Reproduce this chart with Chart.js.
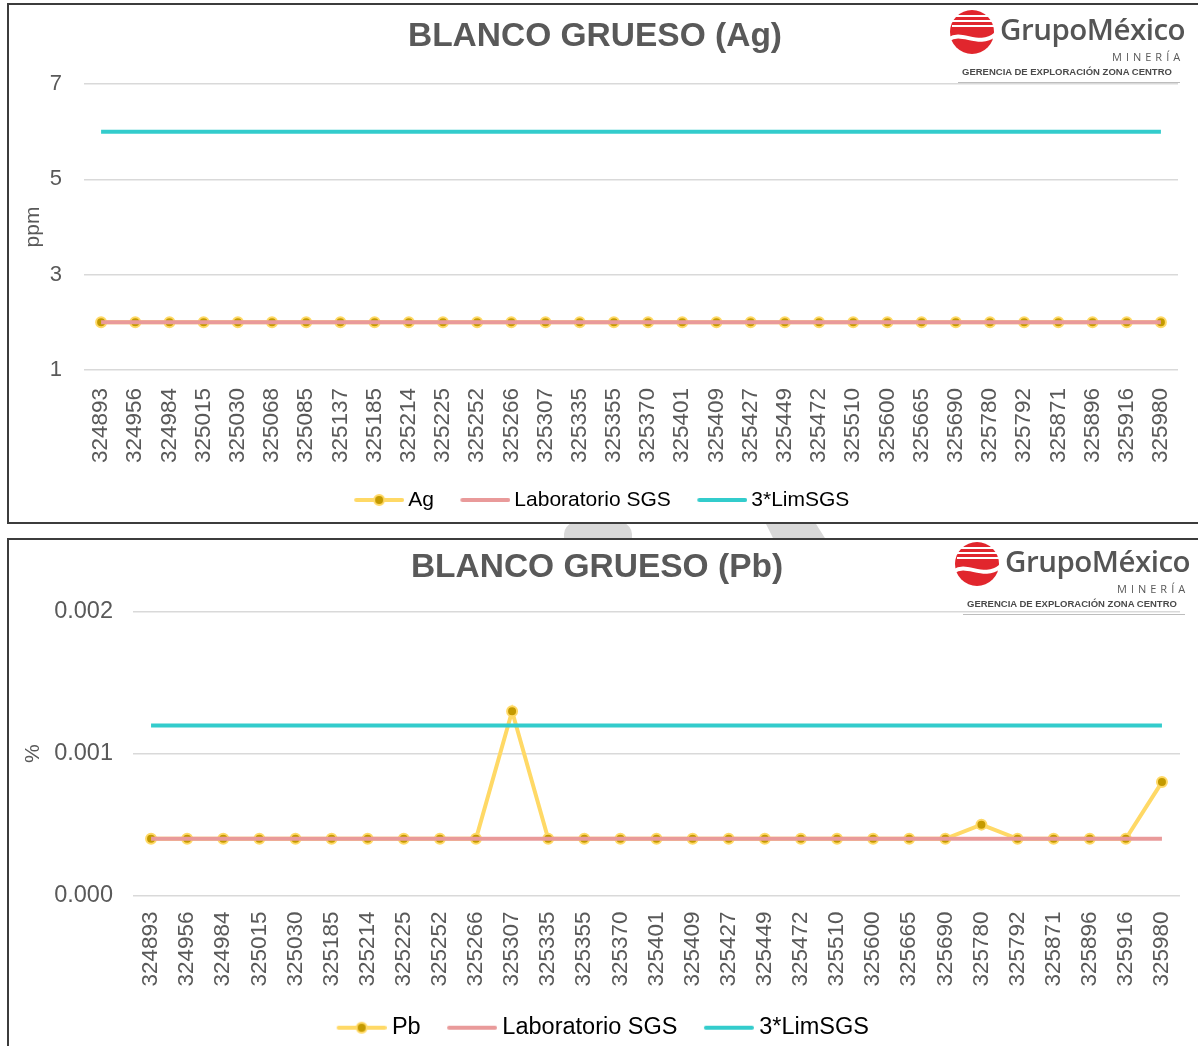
<!DOCTYPE html>
<html>
<head>
<meta charset="utf-8">
<script src="https://cdn.jsdelivr.net/npm/chart.js@4.4.0/dist/chart.umd.min.js"></script>
<style>
    body { margin: 0; background: #fff; width: 1198px; height: 1046px; overflow: hidden; position: relative; font-family: 'Liberation Sans', Arial, sans-serif; }
    .box { position: absolute; left: 7px; width: 1200px; border: 2px solid #3c3c3c; background: #fff; overflow: hidden; z-index: 1; }
    #box1 { top: 3px; height: 517px; }
    #box2 { top: 538px; height: 520px; }
    .box canvas { position: absolute; left: 0; top: 0; }
    .title { position: absolute; z-index: 2; font-weight: bold; font-size: 33.5px; color: #595959; white-space: nowrap; transform: translate(-50%, -50%); }
    .logo { position: absolute; z-index: 2; width: 240px; height: 80px; }
    .logo canvas { position: absolute; left: 0; top: 0; }
    .gm { position: absolute; left: 52px; top: 4px; font-family: 'Open Sans', sans-serif; font-weight: 600; font-size: 29.5px; line-height: 32px; color: #555; letter-spacing: -0.5px; white-space: nowrap; }
    .mineria { position: absolute; left: 164px; top: 42px; font-family: 'Open Sans', sans-serif; font-size: 11px; line-height: 11px; letter-spacing: 4px; color: #595959; }
    .gerencia { position: absolute; left: 14px; top: 58px; font-family: 'Liberation Sans Narrow', 'Liberation Sans', sans-serif; font-weight: bold; font-size: 9.5px; line-height: 10px; color: #4a4a4a; white-space: nowrap; }
    .rule { position: absolute; left: 10px; top: 73px; width: 222px; height: 1px; background: #bdbdbd; }
    .wm1 { position: absolute; left: 564px; top: 516px; width: 68px; height: 30px; background: #d8d8d8; border-radius: 50% 50% 0 0 / 60% 60% 0 0; }
    .wm2 { position: absolute; left: 762px; top: 516px; width: 68px; height: 30px; background: #d8d8d8; clip-path: polygon(0 0, 72% 0, 100% 100%, 22% 100%); }
</style>
</head>
<body>
<div class="wm1"></div>
<div class="wm2"></div>

<div class="box" id="box1"><canvas id="chartAg" width="1196" height="517"></canvas></div>
<div class="box" id="box2"><canvas id="chartPb" width="1196" height="510"></canvas></div>

<div class="title" style="left:595px;top:35px">BLANCO GRUESO (Ag)</div>
<div class="title" style="left:597px;top:566px">BLANCO GRUESO (Pb)</div>

<div class="logo" style="left:948px;top:9px">
    <canvas class="gmIcon" width="48" height="46"></canvas>
    <div class="gm">GrupoMéxico</div>
    <div class="mineria">MINERÍA</div>
    <div class="gerencia">GERENCIA DE EXPLORACIÓN ZONA CENTRO</div>
    <div class="rule"></div>
</div>
<div class="logo" style="left:953px;top:541px">
    <canvas class="gmIcon" width="48" height="46"></canvas>
    <div class="gm">GrupoMéxico</div>
    <div class="mineria">MINERÍA</div>
    <div class="gerencia">GERENCIA DE EXPLORACIÓN ZONA CENTRO</div>
    <div class="rule"></div>
</div>

<script>
// Ag (ppm)
var agLabels = ['324893','324956','324984','325015','325030','325068','325085','325137','325185','325214',
    '325225','325252','325266','325307','325335','325355','325370','325401','325409','325427',
    '325449','325472','325510','325600','325665','325690','325780','325792','325871','325896',
    '325916','325980'];
var agValues = [2,2,2,2,2,2,2,2,2,2, 2,2,2,2,2,2,2,2,2,2, 2,2,2,2,2,2,2,2,2,2, 2,2];
var agLabSGS = [2,2,2,2,2,2,2,2,2,2, 2,2,2,2,2,2,2,2,2,2, 2,2,2,2,2,2,2,2,2,2, 2,2];
var agLimSGS = [6,6,6,6,6,6,6,6,6,6, 6,6,6,6,6,6,6,6,6,6, 6,6,6,6,6,6,6,6,6,6, 6,6];
var agTicks = [1, 3, 5, 7];

// Pb (%)
var pbLabels = ['324893','324956','324984','325015','325030','325185','325214','325225','325252','325266',
    '325307','325335','325355','325370','325401','325409','325427','325449','325472','325510',
    '325600','325665','325690','325780','325792','325871','325896','325916','325980'];
var pbValues = [0.0004,0.0004,0.0004,0.0004,0.0004,0.0004,0.0004,0.0004,0.0004,0.0004,
    0.0013,0.0004,0.0004,0.0004,0.0004,0.0004,0.0004,0.0004,0.0004,0.0004,
    0.0004,0.0004,0.0004,0.0005,0.0004,0.0004,0.0004,0.0004,0.0008];
var pbLabSGS = [0.0004,0.0004,0.0004,0.0004,0.0004,0.0004,0.0004,0.0004,0.0004,0.0004,
    0.0004,0.0004,0.0004,0.0004,0.0004,0.0004,0.0004,0.0004,0.0004,0.0004,
    0.0004,0.0004,0.0004,0.0004,0.0004,0.0004,0.0004,0.0004,0.0004];
var pbLimSGS = [0.0012,0.0012,0.0012,0.0012,0.0012,0.0012,0.0012,0.0012,0.0012,0.0012,
    0.0012,0.0012,0.0012,0.0012,0.0012,0.0012,0.0012,0.0012,0.0012,0.0012,
    0.0012,0.0012,0.0012,0.0012,0.0012,0.0012,0.0012,0.0012,0.0012];
var pbTicks = [0, 0.001, 0.002];

var TEXT = '#595959';
var YELLOW = '#FFD966';
var GOLD = '#C49A00';
var PINK = '#E99A9A';
var CYAN = '#33CCCC';

Chart.defaults.font.family = "'Liberation Sans', Arial, sans-serif";

// small line sample for the legend (left part transparent so the gap before it looks right)
function legendLine(color, dot) {
    var c = document.createElement('canvas');
    c.width = 73;
    c.height = 14;
    var g = c.getContext('2d');
    g.strokeStyle = color;
    g.lineWidth = 4;
    g.lineCap = 'round';
    g.beginPath();
    g.moveTo(25, 7);
    g.lineTo(71, 7);
    g.stroke();
    if (dot) {
        g.fillStyle = GOLD;
        g.strokeStyle = color;
        g.lineWidth = 2;
        g.beginPath();
        g.arc(48, 7, 5, 0, Math.PI * 2);
        g.fill();
        g.stroke();
    }
    return c;
}

function loadChart(id, o) {
    var ctx = document.getElementById(id).getContext('2d');
    var names = [o.name, 'Laboratorio SGS', '3*LimSGS'];
    var styles = [legendLine(YELLOW, true), legendLine(PINK, false), legendLine(CYAN, false)];

    return new Chart(ctx, {
        type: 'line',
        data: {
            labels: o.labels,
            datasets: [{
                label: o.name,
                data: o.values,
                borderColor: YELLOW,
                borderWidth: 4,
                pointRadius: 5,
                pointBackgroundColor: GOLD,
                pointBorderColor: YELLOW,
                pointBorderWidth: 2,
                tension: 0,
                order: 3
            }, {
                label: 'Laboratorio SGS',
                data: o.lab,
                borderColor: PINK,
                borderWidth: 4,
                pointRadius: 0,
                order: 2
            }, {
                label: '3*LimSGS',
                data: o.lim,
                borderColor: CYAN,
                borderWidth: 4,
                pointRadius: 0,
                order: 1
            }]
        },
        options: {
            responsive: false,
            animation: false,
            devicePixelRatio: 1,
            layout: {padding: {top: o.top, right: o.right, left: 0, bottom: o.bottom}},
            plugins: {
                tooltip: {enabled: false},
                title: {display: false},
                legend: {
                    position: 'bottom',
                    labels: {
                        usePointStyle: true,
                        pointStyleWidth: 60,
                        padding: 10,
                        color: TEXT,
                        font: {size: o.legendSize},
                        generateLabels: function () {
                            return names.map(function (n, i) {
                                return {text: n, pointStyle: styles[i], fillStyle: 'transparent',
                                    strokeStyle: 'transparent', lineWidth: 0, hidden: false, datasetIndex: i};
                            });
                        }
                    }
                }
            },
            scales: {
                x: {
                    offset: true,
                    grid: {display: false},
                    border: {display: false},
                    ticks: {color: TEXT, font: {size: 22.5}, autoSkip: false, minRotation: 90, maxRotation: 90, padding: o.xPad},
                    afterFit: function (axis) { axis.height = o.xHeight; }
                },
                y: {
                    min: o.ticks[0],
                    max: o.ticks[o.ticks.length - 1],
                    border: {display: false},
                    grid: {color: '#D9D9D9', lineWidth: 1.5, drawTicks: false},
                    ticks: {
                        color: TEXT, font: {size: o.yFont}, padding: o.yPad,
                        callback: o.fmt
                    },
                    afterBuildTicks: function (axis) {
                        axis.ticks = o.ticks.map(function (v) { return {value: v}; });
                    },
                    title: {display: true, text: o.unit, color: TEXT, font: {size: 21}, padding: {top: 12, bottom: 0}},
                    afterFit: function (axis) { axis.width = o.yWidth; }
                }
            }
        }
    });
}

loadChart('chartAg', {
    name: 'Ag', labels: agLabels, values: agValues, lab: agLabSGS, lim: agLimSGS, ticks: agTicks,
    unit: 'ppm', fmt: function (v) { return v; }, legendSize: 21, yFont: 22,
    top: 79, right: 27, bottom: 1.5, xHeight: 109.5, xPad: 10, yWidth: 75, yPad: 22
});

loadChart('chartPb', {
    name: 'Pb', labels: pbLabels, values: pbValues, lab: pbLabSGS, lim: pbLimSGS, ticks: pbTicks,
    unit: '%', fmt: function (v) { return Number(v).toFixed(3); }, legendSize: 23.5, yFont: 23.5,
    top: 72, right: 25, bottom: 0.5, xHeight: 110.5, xPad: 8, yWidth: 124, yPad: 20
});

// logo mark
document.querySelectorAll('.gmIcon').forEach(function (c) {
    var g = c.getContext('2d');
    g.fillStyle = '#E1262D';
    g.beginPath();
    g.arc(24, 23, 22, 0, Math.PI * 2);
    g.fill();
    g.strokeStyle = '#fff';
    g.lineWidth = 2;
    [7, 12, 17].forEach(function (y) {
        g.beginPath();
        g.moveTo(4, y);
        g.lineTo(46, y);
        g.stroke();
    });
    g.lineWidth = 4;
    g.beginPath();
    g.moveTo(0, 31);
    g.bezierCurveTo(14, 20, 30, 40, 48, 25);
    g.stroke();
});
</script>
</body>
</html>
